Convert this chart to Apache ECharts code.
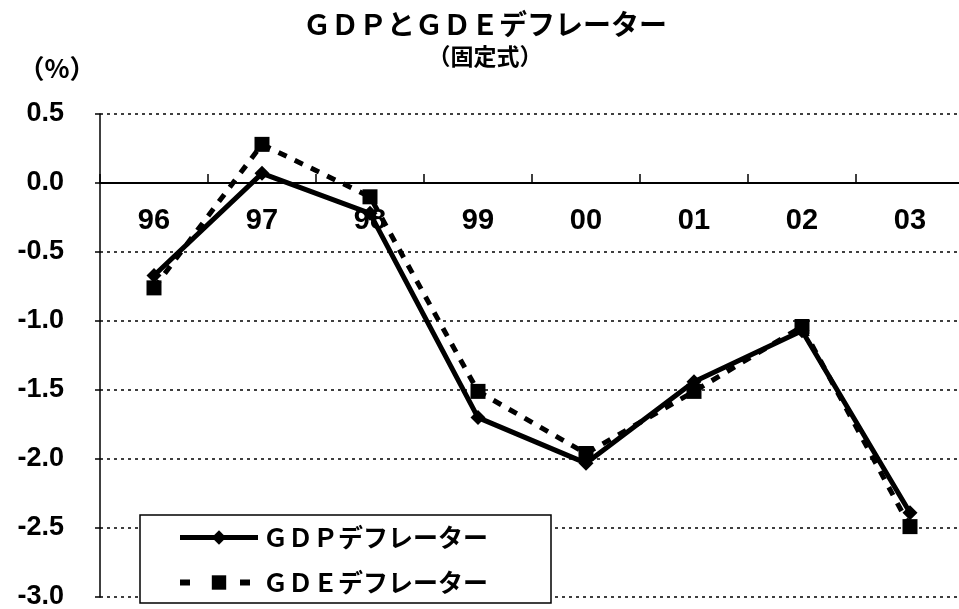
<!DOCTYPE html>
<html>
<head>
<meta charset="utf-8">
<script src="https://cdn.jsdelivr.net/npm/echarts@6/dist/echarts.min.js"></script>
<style>
  html, body { margin: 0; padding: 0; background: #fff; }
  #main { width: 959px; height: 609px; }
</style>
</head>
<body>
<div id="main"></div>
<script>
// 年度（カテゴリ）
var years = ['96', '97', '98', '99', '00', '01', '02', '03'];
// GDPデフレーター（前年比 %）
var gdpDeflator = [-0.67, 0.07, -0.22, -1.70, -2.03, -1.44, -1.07, -2.39];
// GDEデフレーター（前年比 %）
var gdeDeflator = [-0.76, 0.28, -0.10, -1.51, -1.96, -1.51, -1.04, -2.49];

var gdpName = 'ＧＤＰデフレーター';
var gdeName = 'ＧＤＥデフレーター';

var jp = "'Noto Sans CJK JP', sans-serif";
var num = "'Liberation Sans', Arial, sans-serif";

// グリッドの位置（y軸 0.5 ～ -3.0）
var gridTop = 114, gridHeight = 483;
var yMin = -3, yMax = 0.5;
// x軸を 0 の位置へ動かす量
var zeroOffset = -gridHeight * (0 - yMin) / (yMax - yMin);

var chart = echarts.init(document.getElementById('main'));

var option = {
  backgroundColor: '#fff',
  animation: false,
  title: [
    {
      text: 'ＧＤＰとＧＤＥデフレーター',
      left: 480, top: 5, textAlign: 'center',
      textStyle: { fontFamily: jp, fontSize: 28, fontWeight: 'bold', color: '#000' }
    },
    {
      text: '（固定式）',
      left: 480, top: 40, textAlign: 'center',
      textStyle: { fontFamily: jp, fontSize: 23, fontWeight: 'bold', color: '#000' }
    },
    {
      text: '（%）',
      left: 52, top: 50, textAlign: 'center',
      textStyle: { fontFamily: jp, fontSize: 26, fontWeight: 'bold', color: '#000' }
    }
  ],
  legend: {
    orient: 'vertical',
    left: 140,
    top: 515,
    data: [
      { name: gdpName, lineStyle: { width: 5, type: 'solid' } },
      { name: gdeName, lineStyle: { width: 6, type: [10, 50] } }
    ],
    itemWidth: 78,
    itemHeight: 18,
    itemGap: 20,
    padding: [10, 63, 8, 37],
    backgroundColor: '#fff',
    borderColor: '#000',
    borderWidth: 1.5,
    borderRadius: 0,
    textStyle: { fontFamily: jp, fontSize: 25, fontWeight: 'bold', color: '#000' },
    z: 10
  },
  grid: {
    left: 100,
    top: gridTop,
    width: 864,
    height: gridHeight,
    outerBoundsMode: 'none',
    containLabel: false
  },
  xAxis: {
    type: 'category',
    data: years,
    boundaryGap: true,
    offset: zeroOffset,
    axisLine: { onZero: false, lineStyle: { color: '#000', width: 2 } },
    axisTick: { show: true, inside: true, length: 9, interval: 0, lineStyle: { color: '#000', width: 1.5 } },
    axisLabel: {
      margin: 23,
      interval: 0,
      color: '#000',
      fontFamily: num,
      fontSize: 29,
      fontWeight: 'bold'
    },
    splitLine: { show: false },
    z: 5
  },
  yAxis: {
    type: 'value',
    min: yMin,
    max: yMax,
    interval: 0.5,
    axisLine: { show: true, lineStyle: { color: '#000', width: 1.5 } },
    axisTick: { show: true, length: 5, lineStyle: { color: '#000', width: 1.5 } },
    axisLabel: {
      margin: 36,
      color: '#000',
      fontFamily: num,
      fontSize: 27,
      fontWeight: 'bold',
      formatter: function (v) { return v.toFixed(1); }
    },
    splitLine: { show: true, lineStyle: { color: '#000', width: 1.5, type: [3, 4] } }
  },
  series: [
    {
      name: gdeName,
      type: 'line',
      data: gdeDeflator,
      symbol: 'rect',
      symbolSize: 15,
      lineStyle: { color: '#000', width: 5, type: [9, 9] },
      itemStyle: { color: '#000' },
      z: 3
    },
    {
      name: gdpName,
      type: 'line',
      data: gdpDeflator,
      symbol: 'diamond',
      symbolSize: 15,
      lineStyle: { color: '#000', width: 5 },
      itemStyle: { color: '#000' },
      z: 4
    }
  ]
};

chart.setOption(option);
</script>
</body>
</html>
